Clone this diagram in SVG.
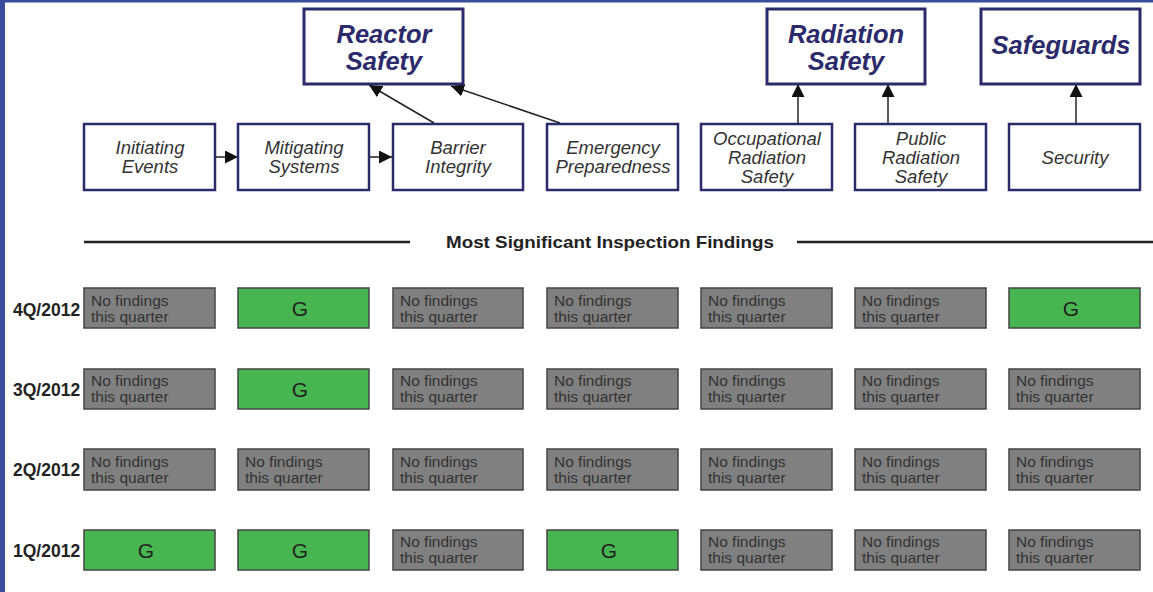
<svg xmlns="http://www.w3.org/2000/svg" width="1153" height="592" viewBox="0 0 1153 592">
<defs>
<style>
.top{fill:#fff;stroke:#2b2a6b;stroke-width:3}
.sub{fill:#fff;stroke:#2b2a6b;stroke-width:2.5}
.tt{font-family:"Liberation Sans",Arial,sans-serif;font-weight:bold;font-style:italic;font-size:25.5px;fill:#2b2a6b;text-anchor:middle}
.st{font-family:"Liberation Sans",Arial,sans-serif;font-style:italic;font-size:18.5px;fill:#333;text-anchor:middle}
.gray{fill:#808080;stroke:#444;stroke-width:1.5}
.green{fill:#48b650;stroke:#444;stroke-width:1.5}
.nf{font-family:"Liberation Sans",Arial,sans-serif;font-size:15.5px;fill:#333}
.g{font-family:"Liberation Sans",Arial,sans-serif;font-size:21px;fill:#222;text-anchor:middle}
.rl{font-family:"Liberation Sans",Arial,sans-serif;font-weight:bold;font-size:17.5px;fill:#222}
.conn{stroke:#222;stroke-width:1.5;fill:none}
</style>
<marker id="ah" viewBox="0 0 10 10" refX="10" refY="5" markerWidth="13" markerHeight="13" markerUnits="userSpaceOnUse" orient="auto"><path d="M0,0 L10,5 L0,10 z" fill="#111"/></marker>
</defs>
<rect x="0" y="0" width="1153" height="592" fill="#fff"/>
<rect x="0" y="0" width="5" height="592" fill="#3a4e9c"/>
<rect x="0" y="0" width="1153" height="2.5" fill="#3a4e9c"/>

<g id="connectors">
<line class="conn" x1="215" y1="157" x2="238" y2="157" marker-end="url(#ah)"/>
<line class="conn" x1="369" y1="157" x2="392" y2="157" marker-end="url(#ah)"/>
<line class="conn" x1="434" y1="123" x2="369" y2="85" marker-end="url(#ah)"/>
<line class="conn" x1="560" y1="123" x2="451" y2="86" marker-end="url(#ah)"/>
<line class="conn" x1="798" y1="123" x2="798" y2="84" marker-end="url(#ah)"/>
<line class="conn" x1="888" y1="123" x2="888" y2="84" marker-end="url(#ah)"/>
<line class="conn" x1="1076" y1="123" x2="1076" y2="84" marker-end="url(#ah)"/>
</g>

<g id="reactor-safety"><rect class="top" x="304" y="9" width="159" height="75"/><text class="tt" x="384" y="43">Reactor</text><text class="tt" x="384" y="70">Safety</text></g>
<g id="radiation-safety"><rect class="top" x="767" y="9" width="158" height="75"/><text class="tt" x="846" y="43">Radiation</text><text class="tt" x="846" y="70">Safety</text></g>
<g id="safeguards"><rect class="top" x="981" y="9" width="159" height="75"/><text class="tt" x="1061" y="54">Safeguards</text></g>

<g id="initiating-events"><rect class="sub" x="84" y="124" width="131" height="66"/><text class="st" x="150" y="154">Initiating</text><text class="st" x="150" y="173">Events</text></g>
<g id="mitigating-systems"><rect class="sub" x="238" y="124" width="131" height="66"/><text class="st" x="304" y="154">Mitigating</text><text class="st" x="304" y="173">Systems</text></g>
<g id="barrier-integrity"><rect class="sub" x="393" y="124" width="130" height="66"/><text class="st" x="458" y="154">Barrier</text><text class="st" x="458" y="173">Integrity</text></g>
<g id="emergency-preparedness"><rect class="sub" x="547" y="124" width="131" height="66"/><text class="st" x="613" y="154">Emergency</text><text class="st" x="613" y="173">Preparedness</text></g>
<g id="occupational-radiation-safety"><rect class="sub" x="701" y="124" width="131" height="66"/><text class="st" x="767" y="145">Occupational</text><text class="st" x="767" y="164">Radiation</text><text class="st" x="767" y="183">Safety</text></g>
<g id="public-radiation-safety"><rect class="sub" x="855" y="124" width="131" height="66"/><text class="st" x="921" y="145">Public</text><text class="st" x="921" y="164">Radiation</text><text class="st" x="921" y="183">Safety</text></g>
<g id="security"><rect class="sub" x="1009" y="124" width="131" height="66"/><text class="st" x="1075" y="164">Security</text></g>

<g id="section-header">
<line x1="84" y1="242" x2="410" y2="242" stroke="#222" stroke-width="2.5"/>
<line x1="797" y1="242" x2="1153" y2="242" stroke="#222" stroke-width="2.5"/>
<text x="446" y="248" textLength="328" lengthAdjust="spacingAndGlyphs" font-family="Liberation Sans, Arial, sans-serif" font-weight="bold" font-size="17" fill="#222">Most Significant Inspection Findings</text>
</g>

<g id="row-labels">
<text class="rl" x="13" y="316">4Q/2012</text>
<text class="rl" x="13" y="396">3Q/2012</text>
<text class="rl" x="13" y="476">2Q/2012</text>
<text class="rl" x="13" y="557">1Q/2012</text>
</g>

<g id="row-4q">
<g id="c4-1"><rect class="gray" x="84" y="288" width="131" height="40"/><text class="nf" x="91" y="306">No findings</text><text class="nf" x="91" y="322">this quarter</text></g>
<g id="c4-2"><rect class="green" x="238" y="288" width="131" height="40"/><text class="g" x="300" y="316">G</text></g>
<g id="c4-3"><rect class="gray" x="393" y="288" width="130" height="40"/><text class="nf" x="400" y="306">No findings</text><text class="nf" x="400" y="322">this quarter</text></g>
<g id="c4-4"><rect class="gray" x="547" y="288" width="131" height="40"/><text class="nf" x="554" y="306">No findings</text><text class="nf" x="554" y="322">this quarter</text></g>
<g id="c4-5"><rect class="gray" x="701" y="288" width="131" height="40"/><text class="nf" x="708" y="306">No findings</text><text class="nf" x="708" y="322">this quarter</text></g>
<g id="c4-6"><rect class="gray" x="855" y="288" width="131" height="40"/><text class="nf" x="862" y="306">No findings</text><text class="nf" x="862" y="322">this quarter</text></g>
<g id="c4-7"><rect class="green" x="1009" y="288" width="131" height="40"/><text class="g" x="1071" y="316">G</text></g>
</g>

<g id="row-3q">
<g id="c3-1"><rect class="gray" x="84" y="369" width="131" height="40"/><text class="nf" x="91" y="386">No findings</text><text class="nf" x="91" y="402">this quarter</text></g>
<g id="c3-2"><rect class="green" x="238" y="369" width="131" height="40"/><text class="g" x="300" y="397">G</text></g>
<g id="c3-3"><rect class="gray" x="393" y="369" width="130" height="40"/><text class="nf" x="400" y="386">No findings</text><text class="nf" x="400" y="402">this quarter</text></g>
<g id="c3-4"><rect class="gray" x="547" y="369" width="131" height="40"/><text class="nf" x="554" y="386">No findings</text><text class="nf" x="554" y="402">this quarter</text></g>
<g id="c3-5"><rect class="gray" x="701" y="369" width="131" height="40"/><text class="nf" x="708" y="386">No findings</text><text class="nf" x="708" y="402">this quarter</text></g>
<g id="c3-6"><rect class="gray" x="855" y="369" width="131" height="40"/><text class="nf" x="862" y="386">No findings</text><text class="nf" x="862" y="402">this quarter</text></g>
<g id="c3-7"><rect class="gray" x="1009" y="369" width="131" height="40"/><text class="nf" x="1016" y="386">No findings</text><text class="nf" x="1016" y="402">this quarter</text></g>
</g>

<g id="row-2q">
<g id="c2-1"><rect class="gray" x="84" y="449" width="131" height="41"/><text class="nf" x="91" y="467">No findings</text><text class="nf" x="91" y="483">this quarter</text></g>
<g id="c2-2"><rect class="gray" x="238" y="449" width="131" height="41"/><text class="nf" x="245" y="467">No findings</text><text class="nf" x="245" y="483">this quarter</text></g>
<g id="c2-3"><rect class="gray" x="393" y="449" width="130" height="41"/><text class="nf" x="400" y="467">No findings</text><text class="nf" x="400" y="483">this quarter</text></g>
<g id="c2-4"><rect class="gray" x="547" y="449" width="131" height="41"/><text class="nf" x="554" y="467">No findings</text><text class="nf" x="554" y="483">this quarter</text></g>
<g id="c2-5"><rect class="gray" x="701" y="449" width="131" height="41"/><text class="nf" x="708" y="467">No findings</text><text class="nf" x="708" y="483">this quarter</text></g>
<g id="c2-6"><rect class="gray" x="855" y="449" width="131" height="41"/><text class="nf" x="862" y="467">No findings</text><text class="nf" x="862" y="483">this quarter</text></g>
<g id="c2-7"><rect class="gray" x="1009" y="449" width="131" height="41"/><text class="nf" x="1016" y="467">No findings</text><text class="nf" x="1016" y="483">this quarter</text></g>
</g>

<g id="row-1q">
<g id="c1-1"><rect class="green" x="84" y="530" width="131" height="40"/><text class="g" x="146" y="558">G</text></g>
<g id="c1-2"><rect class="green" x="238" y="530" width="131" height="40"/><text class="g" x="300" y="558">G</text></g>
<g id="c1-3"><rect class="gray" x="393" y="530" width="130" height="40"/><text class="nf" x="400" y="547">No findings</text><text class="nf" x="400" y="563">this quarter</text></g>
<g id="c1-4"><rect class="green" x="547" y="530" width="131" height="40"/><text class="g" x="609" y="558">G</text></g>
<g id="c1-5"><rect class="gray" x="701" y="530" width="131" height="40"/><text class="nf" x="708" y="547">No findings</text><text class="nf" x="708" y="563">this quarter</text></g>
<g id="c1-6"><rect class="gray" x="855" y="530" width="131" height="40"/><text class="nf" x="862" y="547">No findings</text><text class="nf" x="862" y="563">this quarter</text></g>
<g id="c1-7"><rect class="gray" x="1009" y="530" width="131" height="40"/><text class="nf" x="1016" y="547">No findings</text><text class="nf" x="1016" y="563">this quarter</text></g>
</g>
</svg>
